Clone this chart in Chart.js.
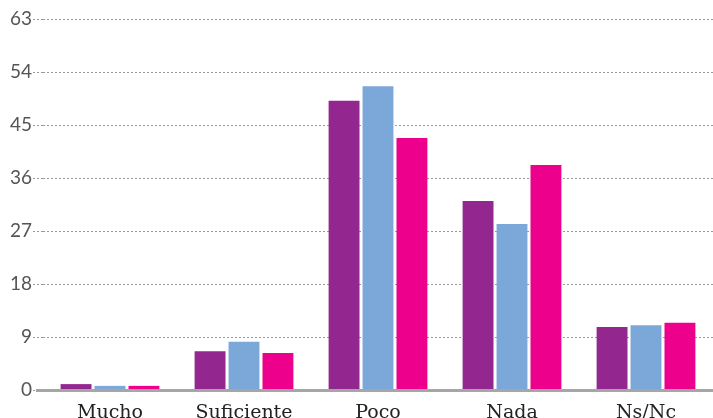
<!DOCTYPE html>
<html><head><meta charset="utf-8">
<script src="https://cdn.jsdelivr.net/npm/chart.js@4/dist/chart.umd.min.js"></script>
<style>html,body{margin:0;padding:0;background:#fff}#wrap{width:713px;height:418px;position:relative}</style>
</head><body><div id="wrap"><canvas id="c" width="713" height="418"></canvas></div>
<script>
const categories = ["Mucho", "Suficiente", "Poco", "Nada", "Ns/Nc"];
const series1 = [1.0, 6.6, 49.1, 32.1, 10.7];
const series2 = [0.7, 8.2, 51.6, 28.2, 11.0];
const series3 = [0.7, 6.3, 42.8, 38.2, 11.4];
const yTicks = [0, 9, 18, 27, 36, 45, 54, 63];
const colors = ["#93278F", "#7BA7D9", "#EC008C"];

const baseline = {
  id: 'baseline',
  afterDatasetsDraw(chart) {
    const y = chart.scales.y.getPixelForValue(0);
    const ctx = chart.ctx;
    ctx.save();
    ctx.strokeStyle = '#a6a6a6';
    ctx.lineWidth = 3;
    ctx.beginPath();
    ctx.moveTo(36, y + 0.5);
    ctx.lineTo(chart.chartArea.right, y + 0.5);
    ctx.stroke();
    ctx.restore();
  }
};

new Chart(document.getElementById('c'), {
  type: 'bar',
  data: {
    labels: categories,
    datasets: [series1, series2, series3].map((d, i) => ({
      data: d, backgroundColor: colors[i], borderWidth: 0,
      barPercentage: 0.91, categoryPercentage: 0.76
    }))
  },
  options: {
    responsive: false, animation: false,
    layout: { padding: { top: 19, right: 0, left: 0, bottom: 0 } },
    plugins: { legend: { display: false }, tooltip: { enabled: false } },
    scales: {
      x: {
        grid: { display: false },
        border: { display: false },
        ticks: { color: '#222', padding: 4, font: { family: 'DejaVu Serif', size: 19 } },
        afterFit(s) { s.height = 28; }
      },
      y: {
        min: 0, max: 63,
        afterBuildTicks(s) { s.ticks = yTicks.map(v => ({ value: v })); },
        grid: { color: '#999', lineWidth: 1, tickLength: 10, tickBorderDash: [2, 2], drawTicks: true },
        border: { display: false, dash: [2, 2] },
        ticks: { color: '#555', padding: 1, font: { family: 'Lato', size: 19 } },
        afterFit(s) { s.width = 43; }
      }
    }
  },
  plugins: [baseline]
});
</script></body></html>
